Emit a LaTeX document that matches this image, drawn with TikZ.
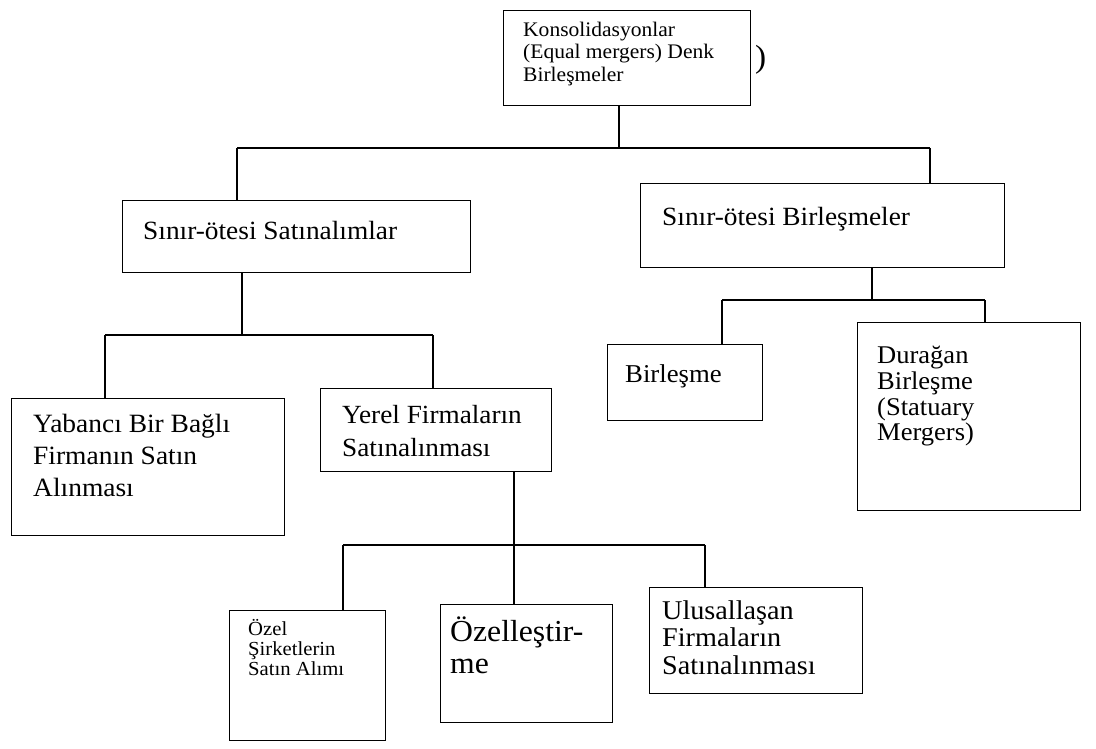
\documentclass[tikz,border=0pt]{standalone}
\usepackage{fontspec}
\setmainfont{Liberation Serif}[FakeStretch=1.04]
\newcommand\fsz[2]{\fontsize{#1}{#2}\selectfont}
\begin{document}
\begin{tikzpicture}[x=1pt,y=-1pt,
  box/.style={draw,line width=1.4pt,anchor=north west,inner sep=0pt},
  txt/.style={anchor=north west,inner sep=0pt,align=left},
  conn/.style={line width=1.4pt}]
\useasboundingbox[fill=white] (0,0) rectangle (1096,749);

% boxes
\node[box,minimum width=247,minimum height=95]  (kons) at (503,10)  {};
\node[box,minimum width=348,minimum height=72]  (sat)  at (122,200) {};
\node[box,minimum width=364,minimum height=84]  (bir)  at (640,183) {};
\node[box,minimum width=273,minimum height=137] (yab)  at (11,398)  {};
\node[box,minimum width=231,minimum height=83]  (yer)  at (320,388) {};
\node[box,minimum width=155,minimum height=76]  (brl)  at (607,344) {};
\node[box,minimum width=223,minimum height=188] (dur)  at (857,322) {};
\node[box,minimum width=156,minimum height=130] (oze)  at (229,610) {};
\node[box,minimum width=172,minimum height=118] (ozl)  at (440,604) {};
\node[box,minimum width=213,minimum height=106] (ulu)  at (649,587) {};

% texts
\node[txt,font=\fsz{20.7}{22.5}] (kons-t) at (523,21.5) {Konsolidasyonlar\\(Equal mergers) Denk\\Birleşmeler};
\node[anchor=west,inner sep=0pt,font=\fsz{32}{34}] (paren) at (755,60) {)};
\node[txt,font=\fsz{26.3}{28}] (sat-t) at (143,221.5) {Sınır-ötesi Satınalımlar};
\node[txt,font=\fsz{26.3}{28}] (bir-t) at (662,207.5) {Sınır-ötesi Birleşmeler};
\node[txt,font=\fsz{26.4}{32}] (yab-t) at (33,413.5) {Yabancı Bir Bağlı\\Firmanın Satın\\Alınması};
\node[txt,font=\fsz{26.2}{33}] (yer-t) at (342,405.6) {Yerel Firmaların\\Satınalınması};
\node[txt,font=\fsz{25.7}{28}] (brl-t) at (625,364) {Birleşme};
\node[txt,font=\fsz{25.5}{25.7}] (dur-t) at (877,346) {Durağan\\Birleşme\\(Statuary\\Mergers)};
\node[txt,font=\fsz{19.9}{20}] (oze-t) at (248,619) {Özel\\Şirketlerin\\Satın Alımı};
\node[txt,font=\fsz{30.5}{32}] (ozl-t) at (450,616.5) {Özelleştir-\\me};
\node[txt,font=\fsz{27.1}{27.5}] (ulu-t) at (662,600) {Ulusallaşan\\Firmaların\\Satınalınması};

% junction points
\coordinate (j0)  at (619,148);
\coordinate (j0l) at (237,148);
\coordinate (j0r) at (930,148);
\coordinate (j1)  at (242,335);
\coordinate (j1l) at (105,335);
\coordinate (j1r) at (433,335);
\coordinate (j2)  at (872,300);
\coordinate (j2l) at (722,300);
\coordinate (j2r) at (985,300);
\coordinate (j3)  at (514,545);
\coordinate (j3l) at (343,545);
\coordinate (j3r) at (705,545);

% connectors
\draw[conn] (kons.south -| j0) -- (j0);
\draw[conn] (j0l) -- (j0r);
\draw[conn] (j0l) -- (sat.north -| j0l);
\draw[conn] (j0r) -- (bir.north -| j0r);

\draw[conn] (sat.south -| j1) -- (j1);
\draw[conn] (j1l) -- (j1r);
\draw[conn] (j1l) -- (yab.north -| j1l);
\draw[conn] (j1r) -- (yer.north -| j1r);

\draw[conn] (bir.south -| j2) -- (j2);
\draw[conn] (j2l) -- (j2r);
\draw[conn] (j2l) -- (brl.north -| j2l);
\draw[conn] (j2r) -- (dur.north -| j2r);

\draw[conn] (yer.south -| j3) -- (j3);
\draw[conn] (j3l) -- (j3r);
\draw[conn] (j3l) -- (oze.north -| j3l);
\draw[conn] (j3) -- (ozl.north -| j3);
\draw[conn] (j3r) -- (ulu.north -| j3r);
\end{tikzpicture}
\end{document}
